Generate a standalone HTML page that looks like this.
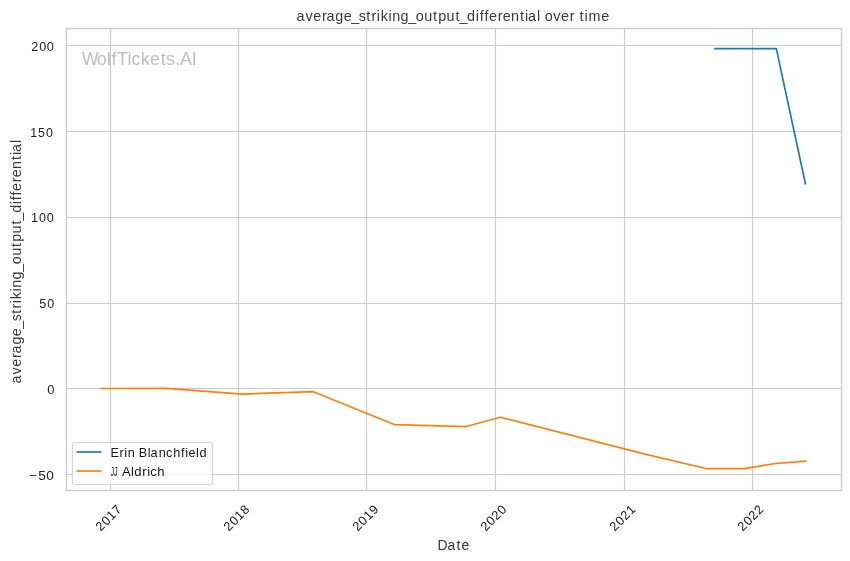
<!DOCTYPE html>
<html>
<head>
<meta charset="utf-8">
<title>average_striking_output_differential over time</title>
<style>
html,body{margin:0;padding:0;background:#fff;}
body{width:850px;height:561px;overflow:hidden;}
svg{display:block;will-change:transform;}
text{font-family:"Liberation Sans",sans-serif;fill:#262626;}
</style>
</head>
<body>
<svg width="850" height="561" viewBox="0 0 850 561">
<rect x="0" y="0" width="850" height="561" fill="#fff"/>
<g stroke="#cccccc" stroke-width="1.11" fill="none">
<path d="M110.5 28.5V490.5M238.5 28.5V490.5M366.5 28.5V490.5M495.5 28.5V490.5M624.5 28.5V490.5M752.5 28.5V490.5"/>
<path d="M66.5 45.5H841.5M66.5 131.5H841.5M66.5 217.5H841.5M66.5 303.5H841.5M66.5 388.5H841.5M66.5 474.5H841.5"/>
</g>
<text transform="translate(0.00,65.00) scale(0.9660,1)" x="84.75 100.11 110.87 115.49 121.14 131.90 136.25 145.65 155.36 166.39 171.93 181.53 186.30 198.51" y="0" font-size="18.58" style="fill:#808080;fill-opacity:0.5">WolfTickets.AI</text>
<g fill="none" stroke-width="1.67" stroke-linecap="square" stroke-linejoin="round">
<polyline stroke="#1f77b4" points="715.0,48.65 776.3,48.6 805.4,183.7"/>
<polyline stroke="#ff7f0e" points="101.2,388.5 165.9,388.4 242.3,394.1 313.3,391.7 394.25,424.6 466,426.56 500.4,417.2 646,454.35 707.1,468.7 744.5,468.6 775.5,463.5 805.6,461.2"/>
</g>
<rect x="66.5" y="28.5" width="775" height="462" fill="none" stroke="#cccccc" stroke-width="1.39"/>
<text transform="translate(-0.25,20.50) scale(1.0343,1)" x="286.94 295.66 303.06 311.49 315.94 324.48 332.67 339.91 347.03 354.26 359.47 364.59 368.31 375.83 379.45 387.57 395.02 402.25 410.33 418.92 423.86 431.97 440.56 444.57 451.87 460.19 464.07 468.78 473.11 481.54 486.29 494.39 502.92 507.81 510.77 519.41 522.50 526.97 535.21 542.61 551.04 555.68 560.57 565.46 569.35 581.65" y="0" font-size="13.93" style="fill:#3a3a3a">average_striking_output_differential over time</text>
<text transform="translate(-0.25,549.50) scale(1.0052,1)" x="435.53 445.32 454.47 459.42" y="0" font-size="13.93" style="fill:#353535">Date</text>
<text transform="translate(20.50,382.25) rotate(-90) scale(1.0240,1)" x="-1.16 7.64 15.12 23.62 28.13 36.75 45.03 52.34 59.52 66.81 72.08 77.24 81.02 88.59 92.27 100.47 108.00 115.29 123.46 132.12 137.12 145.31 153.97 158.05 165.41 173.80 177.71 182.47 186.87 195.37 200.18 208.35 216.96 221.89 224.91 233.60" y="0" font-size="13.93" style="fill:#3a3a3a">average_striking_output_differential</text>
<text transform="translate(0.50,50.50) scale(0.9970,1)" x="30.81 38.75 46.52" y="0" font-size="12.77" style="fill:#1e1e1e">200</text>
<text transform="translate(-0.50,136.50) scale(0.9752,1)" x="31.56 39.52 47.64" y="0" font-size="12.77" style="fill:#1e1e1e">150</text>
<text transform="translate(0.25,221.50) scale(0.9947,1)" x="30.99 38.85 46.64" y="0" font-size="12.77" style="fill:#1e1e1e">100</text>
<text transform="translate(-0.25,307.50) scale(0.9805,1)" x="40.30 48.38" y="0" font-size="12.77" style="fill:#1e1e1e">50</text>
<text transform="translate(0.00,394.00) scale(1.0087,1)" x="46.93" y="0" font-size="12.77" style="fill:#1e1e1e">0</text>
<text transform="translate(0.00,480.00) scale(1.0658,1)" x="27.26 35.85 43.29" y="0" font-size="12.77" style="fill:#1e1e1e">−50</text>
<text transform="translate(113.00,519.55) rotate(-45) scale(0.9834,1)" x="-17.56 -9.51 -1.69 6.23" y="0" font-size="12.77" style="fill:#131313">2017</text>
<text transform="translate(241.00,519.55) rotate(-45) scale(0.9918,1)" x="-17.44 -9.46 -1.71 6.17" y="0" font-size="12.77" style="fill:#131313">2018</text>
<text transform="translate(370.00,519.55) rotate(-45) scale(0.9974,1)" x="-17.36 -9.43 -1.72 6.08" y="0" font-size="12.77" style="fill:#131313">2019</text>
<text transform="translate(498.00,519.55) rotate(-45) scale(0.9910,1)" x="-17.45 -9.47 -1.81 6.18" y="0" font-size="12.77" style="fill:#131313">2020</text>
<text transform="translate(627.00,519.55) rotate(-45) scale(0.9798,1)" x="-17.61 -9.53 -1.79 6.23" y="0" font-size="12.77" style="fill:#131313">2021</text>
<text transform="translate(755.00,519.55) rotate(-45) scale(0.9818,1)" x="-17.58 -9.52 -1.79 6.10" y="0" font-size="12.77" style="fill:#131313">2022</text>
<rect x="72.5" y="442.5" width="140" height="42" rx="2.44" ry="2.44" fill="#ffffff" fill-opacity="0.8" stroke="#cccccc" stroke-opacity="0.8" stroke-width="1.11"/>
<g stroke-width="1.67" stroke-linecap="square">
<line x1="77.3" y1="452" x2="100.7" y2="452" stroke="#1f77b4"/>
<line x1="77.3" y1="471" x2="100.7" y2="471" stroke="#ff7f0e"/>
</g>
<text transform="translate(0.25,456.50) scale(0.9951,1)" x="110.92 119.77 124.57 128.04 135.14 139.29 148.18 151.04 159.19 166.65 173.74 181.73 185.87 189.22 196.79 200.17" y="0" font-size="12.77" style="fill:#151515">Erin Blanchfield</text>
<text transform="translate(-0.50,476.00) scale(1.0193,1)" y="0" font-size="12.77" style="fill:#151515"><tspan x="108.79" textLength="7.18" lengthAdjust="spacingAndGlyphs">JJ</tspan><tspan x="117.52 120.28 128.90 132.15 140.13 144.85 147.87 154.79"> Aldrich</tspan></text>
</svg>
</body>
</html>
